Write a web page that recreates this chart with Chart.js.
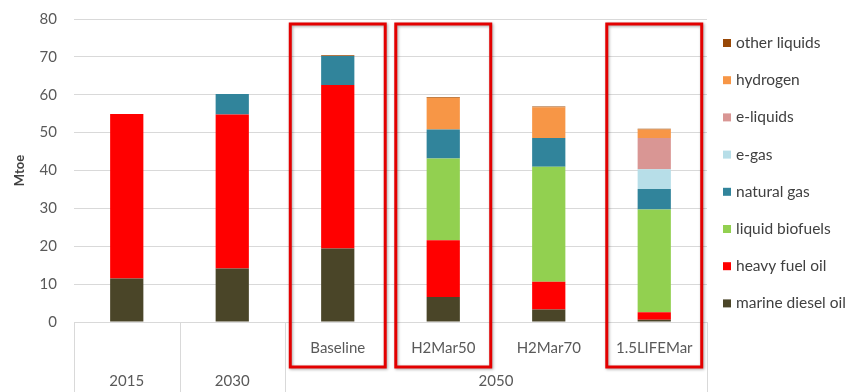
<!DOCTYPE html>
<html>
<head>
<meta charset="utf-8">
<script src="https://cdn.jsdelivr.net/npm/chart.js@4"></script>
<style>
  html, body { margin: 0; padding: 0; background: #fff; }
  #wrap { width: 860px; height: 392px; }
</style>
</head>
<body>
<div id="wrap"><canvas id="myChart" width="860" height="392"></canvas></div>
<script>
// categories (inner level) and the outer group each one belongs to
var categories = ['2015', '2030', 'Baseline', 'H2Mar50', 'H2Mar70', '1.5LIFEMar'];
var groups = ['2015', '2030', '2050', '2050', '2050', '2050'];
var highlighted = ['Baseline', 'H2Mar50', '1.5LIFEMar'];
var yTicks = [0, 10, 20, 30, 40, 50, 60, 70, 80];

// Mtoe, stacked from the bottom up
var marineDieselOil = [11.5, 14.1, 19.4, 6.6, 3.3, 0.6];
var heavyFuelOil    = [43.4, 40.7, 43.2, 15.0, 7.3, 2.0];
var liquidBiofuels  = [0, 0, 0, 21.6, 30.4, 27.1];
var naturalGas      = [0, 5.4, 7.6, 7.6, 7.6, 5.4];
var eGas            = [0, 0, 0, 0, 0, 5.2];
var eLiquids        = [0, 0, 0, 0, 0, 8.3];
var hydrogen        = [0, 0, 0, 8.4, 8.1, 2.2];
var otherLiquids    = [0, 0, 0.2, 0.2, 0.2, 0.2];

var FONT = 'Lato, "Open Sans", sans-serif';
var TEXT = '#595959';

function ds(label, data, color) {
  return { label: label, data: data, backgroundColor: color, borderWidth: 0,
           categoryPercentage: 1, barPercentage: 0.315 };
}

// table-style multi-level x axis, red highlight boxes and the legend
var decorations = {
  id: 'decorations',
  afterDraw: function (chart) {
    var c = chart.ctx, x = chart.scales.x, area = chart.chartArea;
    var step = x.getPixelForValue(1) - x.getPixelForValue(0);
    var bottom = chart.height;

    c.save();
    // axis frame lines below zero
    c.strokeStyle = '#d9d9d9';
    c.lineWidth = 1;
    c.beginPath();
    c.moveTo(area.left, area.bottom + 0.5);
    c.lineTo(area.right, area.bottom + 0.5);
    var edges = [area.left, area.right];
    for (var i = 1; i < groups.length; i++) {
      if (groups[i] !== groups[i - 1]) edges.push(x.getPixelForValue(i) - step / 2);
    }
    edges.forEach(function (px) {
      px = Math.round(px) + 0.5;
      c.moveTo(px, area.bottom);
      c.lineTo(px, bottom);
    });
    c.stroke();

    // labels
    c.font = '15px ' + FONT;
    c.fillStyle = TEXT;
    c.textAlign = 'center';
    c.textBaseline = 'middle';
    var start = 0;
    for (var j = 0; j <= groups.length; j++) {
      if (j === groups.length || groups[j] !== groups[start]) {
        var mid = (x.getPixelForValue(start) + x.getPixelForValue(j - 1)) / 2;
        c.fillText(groups[start], mid, area.bottom + 59);
        start = j;
      }
    }
    categories.forEach(function (cat, k) {
      if (cat !== groups[k]) c.fillText(cat, x.getPixelForValue(k), area.bottom + 26);
    });

    // red highlight boxes
    c.strokeStyle = '#e30000';
    c.lineWidth = 3;
    c.shadowColor = 'rgba(0,0,0,0.35)';
    c.shadowBlur = 3;
    c.shadowOffsetX = 1;
    c.shadowOffsetY = 1;
    highlighted.forEach(function (name) {
      var cx = x.getPixelForValue(categories.indexOf(name));
      c.strokeRect(cx - step * 0.45, area.top + 5, step * 0.9, area.bottom + 45 - area.top - 5);
    });
    c.restore();

    // legend, top entry = top of stack
    c.save();
    c.font = '15.5px ' + FONT;
    c.textBaseline = 'middle';
    c.textAlign = 'left';
    var items = chart.data.datasets.slice().reverse();
    items.forEach(function (d, n) {
      var y = 43 + n * 37.2;
      c.fillStyle = d.backgroundColor;
      c.fillRect(area.right + 16, y - 4, 8, 8);
      c.fillStyle = '#404040';
      c.fillText(d.label, area.right + 29, y);
    });
    c.restore();
  }
};

var ctx = document.getElementById('myChart').getContext('2d');
var myChart = new Chart(ctx, {
  type: 'bar',
  data: {
    labels: categories,
    datasets: [
      ds('marine diesel oil', marineDieselOil, '#4a4528'),
      ds('heavy fuel oil', heavyFuelOil, '#ff0000'),
      ds('liquid biofuels', liquidBiofuels, '#92d050'),
      ds('natural gas', naturalGas, '#31849b'),
      ds('e-gas', eGas, '#b7dee8'),
      ds('e-liquids', eLiquids, '#d99694'),
      ds('hydrogen', hydrogen, '#f79646'),
      ds('other liquids', otherLiquids, '#984807')
    ]
  },
  options: {
    responsive: false,
    animation: false,
    layout: { padding: { top: 19, right: 153, left: 0, bottom: 0 } },
    plugins: { legend: { display: false }, tooltip: { enabled: false } },
    scales: {
      x: {
        stacked: true,
        grid: { display: false },
        border: { display: false },
        ticks: { display: false },
        afterFit: function (s) { s.height = 70; }
      },
      y: {
        stacked: true,
        min: 0,
        max: 80,
        afterBuildTicks: function (s) { s.ticks = yTicks.map(function (v) { return { value: v }; }); },
        grid: { color: '#d9d9d9', drawTicks: false },
        border: { display: false },
        ticks: { color: TEXT, font: { size: 15, family: FONT }, padding: 17 },
        title: { display: true, text: 'Mtoe', color: '#404040',
                 font: { size: 13, family: FONT, weight: 'bold' }, padding: { top: 12, bottom: 0 } },
        afterFit: function (s) { s.width = 74; s.paddingTop = 0; s.paddingBottom = 0; }
      }
    }
  },
  plugins: [decorations]
});
</script>
</body>
</html>
